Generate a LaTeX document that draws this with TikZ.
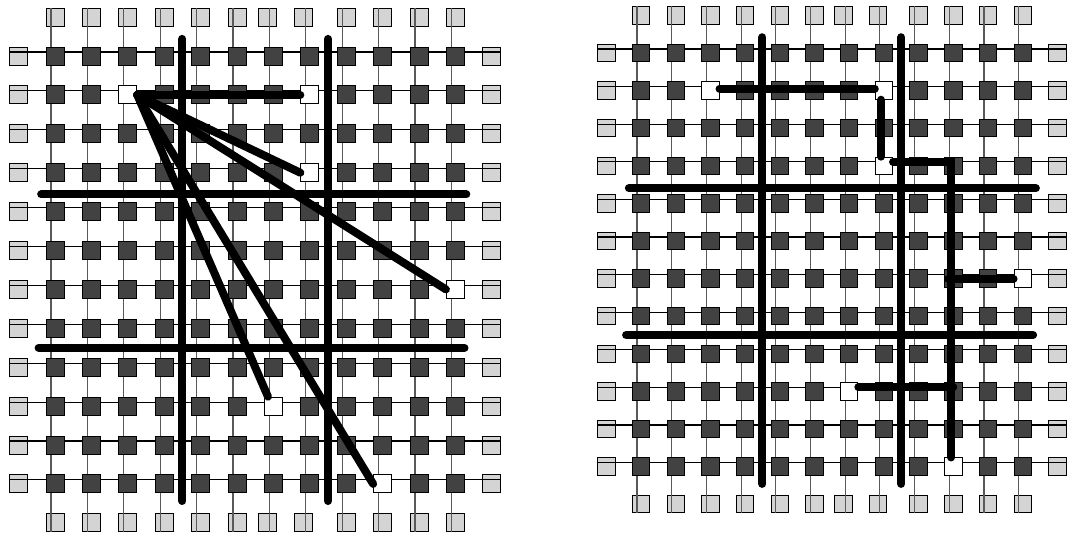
\documentclass[tikz,border=0pt]{standalone}
\usetikzlibrary{calc}
\pgfdeclarelayer{pads}
\pgfdeclarelayer{wires}
\pgfsetlayers{pads,wires,main}
\begin{document}
\begin{tikzpicture}[
	cell/.style={rectangle, draw=black, line width=0.8pt, fill=black!74, inner sep=0pt, minimum size=0.54cm},
	pad/.style={cell, fill=black!17},
	pin/.style={cell, fill=white},
	wire/.style={line width=0.9pt, black},
	vwire/.style={line width=0.9pt, black!65},
	cut/.style={line width=0.24cm, line cap=round},
	route/.style={cut},
	]
	\useasboundingbox (0,0) rectangle (32.07,-15.96);

	% Left chip: placement with straight connections
	\begin{scope}[shift={(0.558,-0.513)}, x=1.092cm, y=-1.167cm]
		% Define cells with their coordinates
		\foreach \i in {1,...,12}
			\foreach \j in {1,...,12}
				\node[cell] (L-\i-\j) at (\i,\j) {};
		\foreach \i/\j in {3/2, 8/2, 8/4, 12/7, 7/10, 10/12}
			\node[pin] (L-\i-\j) at (\i,\j) {};

		% I/O pads round the border
		\begin{pgfonlayer}{pads}
			\foreach \j in {1,...,12} {
				\node[pad] (L-0-\j) at (0,\j) {};
				\node[pad] (L-13-\j) at (13,\j) {};
			}
			\foreach \i/\p in {1/1, 2/2, 3/3, 4/4, 5/5, 6/6, 7/6.83, 8/7.83, 9/9, 10/10, 11/11, 12/12} {
				\node[pad] (L-\i-0) at (\p,0) {};
				\node[pad] (L-\i-13) at (\p,13) {};
			}
		\end{pgfonlayer}

		% Draw the wiring tracks
		\begin{pgfonlayer}{wires}
			\foreach \j in {1,...,12}
				\draw[wire] ([yshift=0.12cm]L-0-\j.west) -- ([yshift=0.12cm]L-13-\j.east);
			\foreach \i in {1,...,12}
				\draw[vwire] ($(L-\i-1.center |- L-\i-0.north)+(-0.12cm,0)$) -- ($(L-\i-12.center |- L-\i-13.south)+(-0.12cm,0)$);
		\end{pgfonlayer}

		% Cut lines
		\draw[cut] (4.5,0.56) -- (4.5,12.44);
		\draw[cut] (8.5,0.56) -- (8.5,12.44);
		\draw[cut] (0.62,4.56) -- (12.3,4.56);
		\draw[cut] (0.55,8.5) -- (12.25,8.5);

		% Draw net from the source pin
		\draw[route] (L-3-2.east) -- (L-8-2.west);
		\draw[route] (L-3-2.east) -- (L-8-4.west);
		\draw[route] (L-3-2.east) -- (L-12-7.west);
		\draw[route] (L-3-2.east) -- ([xshift=0.12cm]L-7-10.north west);
		\draw[route] (L-3-2.east) -- (L-10-12.west);
	\end{scope}

	% Right chip: placement with routed connections
	\begin{scope}[shift={(18.189,-0.462)}, x=1.041cm, y=-1.128cm, cell/.append style={minimum size=0.52cm}]
		% Define cells with their coordinates
		\foreach \i in {1,...,12}
			\foreach \j in {1,...,12}
				\node[cell] (R-\i-\j) at (\i,\j) {};
		\foreach \i/\j in {3/2, 8/2, 8/4, 12/7, 7/10, 10/12}
			\node[pin] (R-\i-\j) at (\i,\j) {};

		% I/O pads round the border
		\begin{pgfonlayer}{pads}
			\foreach \j in {1,...,12} {
				\node[pad] (R-0-\j) at (0,\j) {};
				\node[pad] (R-13-\j) at (13,\j) {};
			}
			\foreach \i/\p in {1/1, 2/2, 3/3, 4/4, 5/5, 6/6, 7/6.83, 8/7.83, 9/9, 10/10, 11/11, 12/12} {
				\node[pad] (R-\i-0) at (\p,0) {};
				\node[pad] (R-\i-13) at (\p,13) {};
			}
		\end{pgfonlayer}

		% Draw the wiring tracks
		\begin{pgfonlayer}{wires}
			\foreach \j in {1,...,12}
				\draw[wire] ([yshift=0.12cm]R-0-\j.west) -- ([yshift=0.12cm]R-13-\j.east);
			\foreach \i in {1,...,12}
				\draw[vwire] ($(R-\i-1.center |- R-\i-0.north)+(-0.12cm,0)$) -- ($(R-\i-12.center |- R-\i-13.south)+(-0.12cm,0)$);
		\end{pgfonlayer}

		% Cut lines
		\draw[cut] (4.5,0.58) -- (4.5,12.46);
		\draw[cut] (8.5,0.58) -- (8.5,12.46);
		\draw[cut] (0.65,4.6) -- (12.38,4.6);
		\draw[cut] (0.57,8.5) -- (12.3,8.5);

		% Draw net along the tracks
		\draw[route] ([yshift=0.06cm]R-3-2.east) -- ([yshift=0.06cm]R-8-2.west);
		\draw[route] ([xshift=-0.09cm]R-8-2.south) -- ([xshift=-0.09cm]R-8-4.north);
		\draw[route] ([yshift=0.12cm]R-8-4.east) -| ([xshift=-0.06cm]R-10-12.north);
		\draw[route] (R-12-7.west) -- ([xshift=-0.15cm]R-10-7.center);
		\draw[route] ([yshift=0.12cm]R-7-10.east) -- ([yshift=0.12cm]R-10-10.center);
	\end{scope}
\end{tikzpicture}
\end{document}
